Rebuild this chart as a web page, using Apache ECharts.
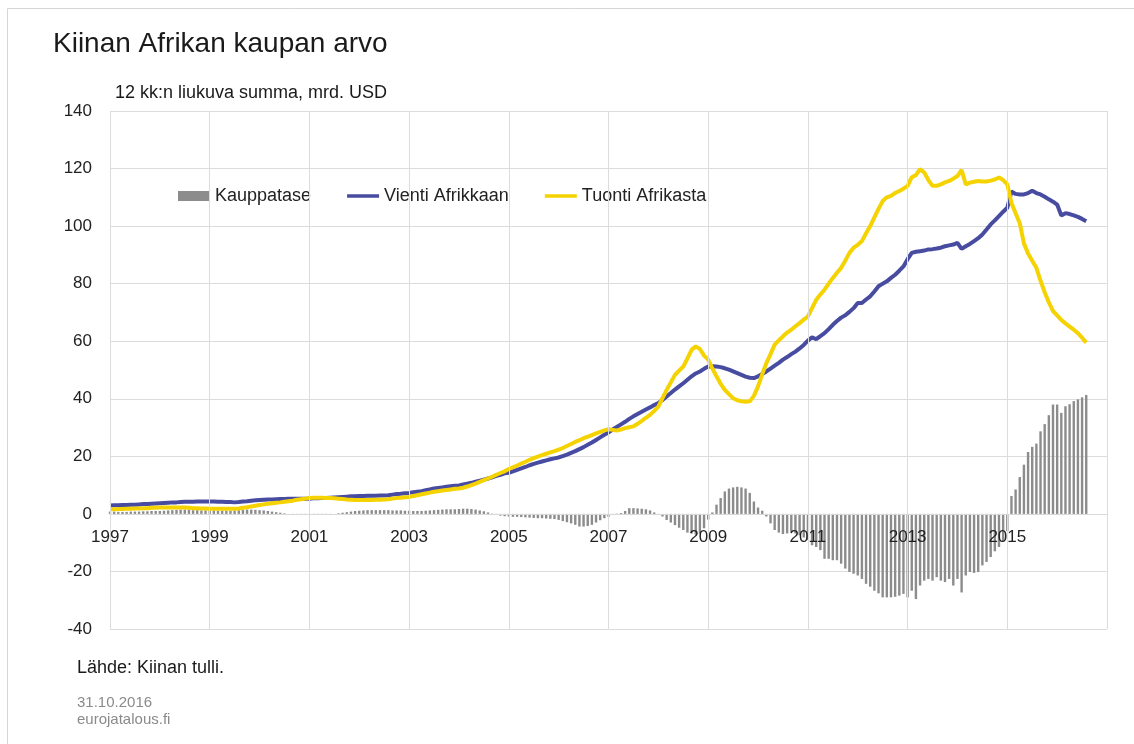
<!DOCTYPE html>
<html><head><meta charset="utf-8">
<script src="https://cdn.jsdelivr.net/npm/echarts@6/dist/echarts.min.js"></script>
<style>html,body{margin:0;padding:0;background:#fff}#c{width:1134px;height:744px}</style>
</head><body><div id="c"></div>
<script>
// Monthly data, Jan 1997 .. Aug 2016 (12-month rolling sums, bn USD)
const startYear = 1997;
const seriesNames = ['Kauppatase', 'Vienti Afrikkaan', 'Tuonti Afrikasta'];

const vienti = [
  2.9,3.0,3.0,3.1,3.1,3.2,3.2,3.3,3.4,3.4,3.5,3.6,
  3.7,3.8,3.9,4.0,4.0,4.1,4.2,4.2,4.2,4.3,4.3,4.3,
  4.3,4.3,4.2,4.2,4.1,4.1,4.0,4.1,4.3,4.4,4.6,4.7,
  4.8,4.9,5.0,5.0,5.1,5.2,5.2,5.3,5.3,5.3,5.3,5.3,
  5.3,5.4,5.4,5.5,5.5,5.6,5.7,5.8,5.9,6.0,6.1,6.1,
  6.2,6.2,6.3,6.3,6.3,6.4,6.4,6.5,6.7,6.9,7.0,7.2,
  7.3,7.5,7.7,7.9,8.2,8.5,8.8,9.0,9.2,9.4,9.6,9.8,
  9.9,10.2,10.5,10.8,11.2,11.5,11.9,12.3,12.7,13.2,13.6,14.1,
  14.3,14.8,15.3,15.8,16.3,16.9,17.4,17.8,18.2,18.6,19.0,19.3,
  19.6,20.1,20.6,21.2,21.8,22.5,23.2,24.0,24.8,25.7,26.6,27.5,
  28.3,29.3,30.2,31.1,32.0,33.0,33.9,34.7,35.5,36.3,37.0,37.8,
  38.5,39.6,40.8,42.0,43.2,44.3,45.4,46.6,47.8,48.8,49.5,50.4,
  51.2,51.3,51.2,51.0,50.6,50.1,49.5,48.9,48.3,47.7,47.3,47.2,
  47.8,48.6,49.5,50.5,51.5,52.5,53.6,54.5,55.5,56.4,57.5,58.7,
  60.2,61.4,60.7,61.8,62.8,64.2,65.7,67.0,68.2,69.0,70.2,71.5,
  73.3,73.3,74.5,75.6,77.3,79.1,80.0,80.8,82.0,83.1,84.5,86.0,
  88.5,90.7,91.1,91.3,91.5,91.9,92.0,92.2,92.5,93.0,93.3,93.6,
  94.2,92.1,93.0,93.8,94.8,95.8,97.1,98.8,100.6,102.0,103.5,105.0,
  106.4,112.0,111.2,111.0,111.0,111.5,112.3,111.5,111.0,110.2,109.3,108.5,
  107.5,103.7,104.5,104.2,103.7,103.2,102.5,101.7
];

const tuonti = [
  1.6,1.6,1.7,1.7,1.8,1.8,1.9,1.9,2.0,2.0,2.1,2.1,
  2.2,2.2,2.2,2.2,2.2,2.2,2.2,2.1,2.0,2.0,1.9,1.9,
  1.8,1.8,1.8,1.8,1.8,1.8,1.8,1.9,2.1,2.3,2.6,2.8,
  3.1,3.3,3.5,3.7,3.9,4.0,4.2,4.4,4.6,4.9,5.1,5.3,
  5.5,5.6,5.6,5.6,5.5,5.5,5.4,5.3,5.2,5.0,4.9,4.8,
  4.8,4.8,4.8,4.8,4.9,4.9,5.0,5.1,5.3,5.5,5.6,5.8,
  5.9,6.2,6.5,6.8,7.1,7.4,7.7,7.9,8.1,8.3,8.5,8.7,
  8.8,9.1,9.5,10.0,10.5,11.1,11.7,12.3,12.9,13.6,14.2,14.8,
  15.6,16.2,16.8,17.5,18.1,18.8,19.4,19.9,20.4,20.9,21.4,21.8,
  22.3,22.9,23.6,24.3,25.0,25.6,26.3,26.8,27.4,28.0,28.5,29.0,
  29.4,29.2,29.0,29.3,29.8,30.1,30.4,31.3,32.3,33.4,34.4,35.8,
  37.3,40.2,43.1,45.7,48.3,49.8,51.2,54.0,57.0,58.2,57.3,55.0,
  53.6,50.5,47.8,45.2,43.1,41.6,40.2,39.5,39.1,39.0,39.1,41.0,
  44.3,48.5,52.4,55.5,58.8,60.3,61.7,63.0,64.0,65.2,66.3,67.5,
  68.6,71.5,74.4,76.2,77.9,80.0,82.0,83.8,85.5,88.0,90.7,92.5,
  93.5,94.8,97.5,100.0,103.0,106.0,108.7,110.0,110.5,111.5,112.2,113.0,
  114.0,117.0,117.7,119.8,118.6,116.0,114.0,114.0,114.5,115.2,115.7,116.5,
  117.4,119.5,114.5,115.1,115.4,115.7,115.5,115.5,115.8,116.2,116.9,116.0,
  114.5,108.0,104.5,101.0,94.0,90.5,88.0,85.5,81.0,77.0,73.5,70.5,
  69.0,67.4,66.2,65.1,64.0,62.8,61.2,59.5
];

const kauppatase = [
  0.8,0.8,0.7,0.7,0.7,0.8,0.8,0.8,0.9,0.9,1.0,1.0,
  1.0,1.1,1.2,1.3,1.4,1.5,1.5,1.4,1.3,1.3,1.2,1.2,
  1.2,1.2,1.1,1.1,1.1,1.1,1.2,1.3,1.4,1.5,1.5,1.4,
  1.3,1.2,1.0,0.8,0.6,0.4,0.2,0.0,-0.2,-0.3,-0.4,-0.4,
  -0.4,-0.4,-0.3,-0.3,-0.2,-0.1,0.0,0.2,0.4,0.6,0.8,1.0,
  1.1,1.2,1.3,1.3,1.3,1.3,1.3,1.3,1.2,1.2,1.2,1.1,
  1.1,1.0,1.0,1.0,1.1,1.2,1.3,1.4,1.5,1.6,1.6,1.6,
  1.7,1.8,1.8,1.7,1.5,1.2,0.9,0.5,0.1,-0.3,-0.6,-0.8,
  -0.9,-1.0,-1.0,-1.1,-1.2,-1.3,-1.4,-1.5,-1.5,-1.6,-1.7,-1.8,
  -2.1,-2.5,-2.9,-3.3,-3.8,-4.4,-4.4,-4.2,-3.8,-3.0,-2.2,-1.5,
  -1.0,-0.4,0.1,0.3,1.0,2.0,2.0,1.9,1.8,1.6,1.2,0.5,
  -0.2,-0.9,-2.1,-3.0,-3.9,-4.8,-5.6,-6.5,-6.8,-7.2,-6.8,-5.0,
  -2.0,0.5,3.2,5.5,7.8,8.8,9.2,9.4,9.2,8.8,7.3,4.3,
  2.2,1.1,-0.9,-3.3,-5.6,-6.5,-7.0,-6.8,-6.2,-6.8,-7.4,-8.2,
  -9.1,-10.9,-11.5,-12.6,-15.6,-15.6,-16.1,-16.1,-17.3,-19.0,-20.2,-20.8,
  -21.4,-22.6,-24.3,-25.3,-26.7,-27.6,-29.0,-29.0,-29.0,-28.8,-28.4,-27.8,
  -29.0,-26.7,-29.6,-24.9,-23.2,-22.6,-23.2,-22.0,-23.2,-23.7,-22.6,-24.9,
  -22.6,-27.3,-21.4,-20.2,-20.5,-20.2,-17.9,-16.7,-15.0,-13.0,-11.5,-9.5,
  -6.0,6.2,8.5,12.8,17.1,21.5,23.3,24.4,28.7,31.2,34.3,38.0,
  38.0,35.1,37.4,38.1,39.2,39.8,40.5,41.3
];

const xMin = 1997, xMax = 2017, xStep = 2;
const yMin = -40, yMax = 140, yStep = 20;

const FONT = '"Liberation Sans", Arial, sans-serif';
function toXY(arr) { return arr.map((v, i) => [startYear + i / 12, v]); }

const W = 1134, H = 744;
const gridTop = 111, gridBottom = 115, gridLeft = 110, gridRight = 27;
const plotH = H - gridTop - gridBottom;
// move the category labels up to the zero line (axis crosses at 0)
const zeroOffset = -Math.round((0 - yMin) / (yMax - yMin) * plotH);

// thin line legend icon (bounding box 32x10, visible stroke in the middle)
const lineIcon = 'path://M0,0H32V0.01H0Z M0,3.2H32V6.8H0Z M0,9.99H32V10H0Z';

const chart = echarts.init(document.getElementById('c'), null, { renderer: 'canvas' });
chart.setOption({
  animation: false,
  backgroundColor: '#ffffff',
  textStyle: { fontFamily: FONT },
  title: {
    text: 'Kiinan Afrikan kaupan arvo',
    left: 48, top: 25,
    textStyle: { fontSize: 28, fontWeight: 'normal', color: '#1a1a1a', fontFamily: FONT }
  },
  legend: {
    left: 178, top: 187, padding: 0,
    itemWidth: 32, itemHeight: 10, itemGap: 36,
    textStyle: { fontSize: 18, color: '#222', fontFamily: FONT },
    data: [
      { name: seriesNames[0], icon: 'rect' },
      { name: seriesNames[1], icon: lineIcon },
      { name: seriesNames[2], icon: lineIcon }
    ]
  },
  grid: { left: gridLeft, right: gridRight, top: gridTop, bottom: gridBottom },
  xAxis: {
    type: 'value', min: xMin, max: xMax, interval: xStep,
    z: 10,
    offset: zeroOffset,
    axisLine: { show: true, onZero: false, lineStyle: { color: '#d9d9d9', width: 1 } },
    axisTick: { show: false },
    axisLabel: {
      margin: 15, fontSize: 17, color: '#222', fontFamily: FONT,
      showMaxLabel: false,
      formatter: v => (v >= xMax ? '' : String(v))
    },
    splitLine: { show: true, lineStyle: { color: '#dcdcdc', width: 1 } }
  },
  yAxis: {
    type: 'value', min: yMin, max: yMax, interval: yStep,
    axisLine: { show: false },
    axisTick: { show: false },
    axisLabel: { margin: 18, fontSize: 17, color: '#222', fontFamily: FONT },
    splitLine: { show: true, lineStyle: { color: '#dcdcdc', width: 1 } }
  },
  series: [
    {
      name: seriesNames[0], type: 'bar', data: toXY(kauppatase),
      barWidth: 2.4, itemStyle: { color: '#8c8c8c' }
    },
    {
      name: seriesNames[1], type: 'line', data: toXY(vienti),
      symbol: 'none', lineStyle: { width: 4, color: '#474ca0' }, itemStyle: { color: '#474ca0' }
    },
    {
      name: seriesNames[2], type: 'line', data: toXY(tuonti),
      symbol: 'none', lineStyle: { width: 4, color: '#f5d300' }, itemStyle: { color: '#f5d300' }
    }
  ],
  graphic: [
    { type: 'rect', silent: true, z: -10,
      shape: { x: 7.5, y: 8.5, width: 1300, height: 900 },
      style: { fill: 'none', stroke: '#d6d6d6', lineWidth: 1 } },
    { type: 'text', left: 115, top: 84,
      style: { text: '12 kk:n liukuva summa, mrd. USD', font: '18px ' + FONT, fill: '#1a1a1a' } },
    { type: 'text', left: 77, top: 659,
      style: { text: 'Lähde: Kiinan tulli.', font: '18px ' + FONT, fill: '#1a1a1a' } },
    { type: 'text', left: 77, top: 695,
      style: { text: '31.10.2016', font: '15px ' + FONT, fill: '#8a8a8a' } },
    { type: 'text', left: 77, top: 712,
      style: { text: 'eurojatalous.fi', font: '15px ' + FONT, fill: '#8a8a8a' } }
  ]
});
</script></body></html>
